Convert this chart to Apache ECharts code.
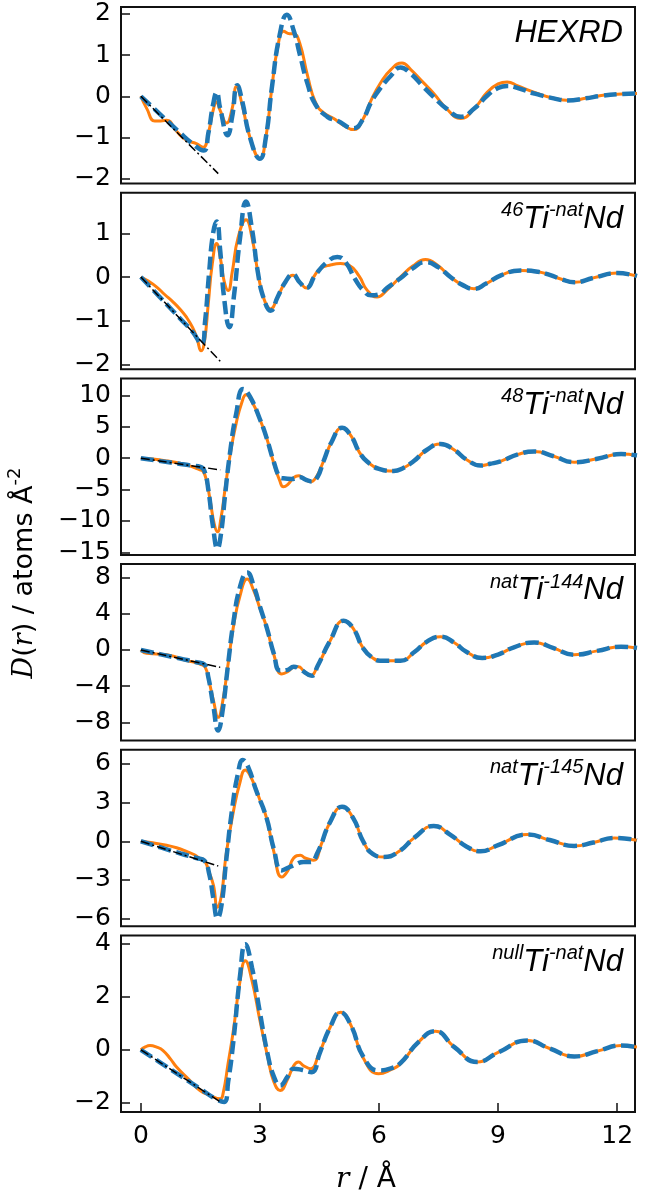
<!DOCTYPE html>
<html>
<head>
<meta charset="utf-8">
<script src="https://cdn.jsdelivr.net/npm/echarts@6/dist/echarts.min.js"></script>
<style>html,body{margin:0;padding:0;background:#fff}#c{width:645px;height:1201px}</style>
</head>
<body>
<div id="c"></div>
<script>
// ---------- DATA ----------
const xTicks = [0, 3, 6, 9, 12];
const panelLabels = [
  '{m|HEXRD}',
  '{s|46}{m|Ti}{s|-nat}{m|Nd}',
  '{s|48}{m|Ti}{s|-nat}{m|Nd}',
  '{s|nat}{m|Ti}{s|-144}{m|Nd}',
  '{s|nat}{m|Ti}{s|-145}{m|Nd}',
  '{s|null}{m|Ti}{s|-nat}{m|Nd}'
];
const yTicks1 = [-2, -1, 0, 1, 2];
const yTicks2 = [-2, -1, 0, 1];
const yTicks3 = [-15, -10, -5, 0, 5, 10];
const yTicks4 = [-8, -4, 0, 4, 8];
const yTicks5 = [-6, -3, 0, 3, 6];
const yTicks6 = [-2, 0, 2, 4];
const yRange1 = [-2.12, 2.17];
const yRange2 = [-2.11, 1.93];
const yRange3 = [-15.4, 12.7];
const yRange4 = [-10.0, 9.5];
const yRange5 = [-6.6, 7.1];
const yRange6 = [-2.34, 4.3];

// black dash-dot reference lines (r, D)
const ref1 = [[0, 0], [1.95, -1.88]];
const ref2 = [[0, 0], [2.0, -1.93]];
const ref3 = [[0, 0], [2.0, -1.87]];
const ref4 = [[0, 0], [2.0, -1.92]];
const ref5 = [[0, 0], [1.95, -1.92]];
const ref6 = [[0, 0], [2.0, -1.96]];

// orange: experiment; blue: model
const exp1 = [[0,0],[0.15,-0.3],[0.35,-0.6],[0.5,-0.6],[0.65,-0.58],[0.9,-0.85],[1.15,-1.07],[1.4,-1.15],[1.57,-1.24],[1.7,-0.9],[1.82,-0.35],[1.91,-0.14],[2.0,-0.35],[2.16,-0.65],[2.3,-0.3],[2.41,0.24],[2.55,-0.2],[2.75,-1.0],[3.0,-1.52],[3.15,-1.0],[3.3,0.2],[3.45,1.2],[3.6,1.58],[3.75,1.52],[3.85,1.52],[4.0,1.3],[4.2,0.5],[4.4,-0.15],[4.6,-0.4],[4.86,-0.54],[5.1,-0.7],[5.36,-0.81],[5.6,-0.55],[5.8,-0.1],[6.03,0.31],[6.3,0.65],[6.58,0.81],[6.8,0.65],[7.1,0.35],[7.38,0.07],[7.7,-0.3],[8.06,-0.54],[8.4,-0.3],[8.73,0.1],[9.0,0.3],[9.23,0.35],[9.5,0.25],[9.9,0.1],[10.4,-0.05],[10.83,-0.1],[11.2,-0.05],[11.6,0.02],[12.0,0.05],[12.5,0.07]];
const mod1 = [[0,0],[0.5,-0.45],[1.0,-0.9],[1.3,-1.15],[1.58,-1.32],[1.7,-0.9],[1.82,-0.2],[1.91,0.1],[2.0,-0.3],[2.19,-0.95],[2.3,-0.5],[2.43,0.27],[2.55,-0.1],[2.75,-1.0],[3.0,-1.52],[3.15,-1.0],[3.3,0.2],[3.5,1.5],[3.68,1.98],[3.85,1.6],[4.02,0.96],[4.2,0.3],[4.4,-0.2],[4.7,-0.5],[4.94,-0.59],[5.36,-0.78],[5.6,-0.55],[5.8,-0.15],[6.03,0.19],[6.3,0.5],[6.54,0.7],[6.8,0.55],[7.1,0.25],[7.38,-0.02],[7.7,-0.3],[8.06,-0.5],[8.4,-0.3],[8.73,0.02],[9.0,0.2],[9.23,0.25],[9.5,0.2],[9.9,0.07],[10.4,-0.05],[10.75,-0.1],[11.2,-0.05],[11.6,0.01],[12.0,0.05],[12.5,0.07]];

const exp2 = [[0,0],[0.2,-0.1],[0.4,-0.23],[0.6,-0.4],[0.82,-0.58],[1.0,-0.75],[1.15,-0.92],[1.3,-1.15],[1.41,-1.39],[1.52,-1.69],[1.6,-1.5],[1.7,-0.6],[1.8,0.3],[1.91,0.77],[2.0,0.45],[2.1,-0.1],[2.2,-0.31],[2.3,0.1],[2.45,0.9],[2.65,1.31],[2.8,0.9],[2.95,0.1],[3.1,-0.5],[3.27,-0.73],[3.45,-0.45],[3.65,-0.1],[3.83,0.04],[4.0,-0.12],[4.17,-0.25],[4.35,0.0],[4.52,0.19],[4.8,0.28],[5.03,0.31],[5.25,0.27],[5.5,0.02],[5.7,-0.3],[5.95,-0.46],[6.2,-0.3],[6.54,0.0],[6.85,0.25],[7.17,0.4],[7.5,0.25],[7.8,0.0],[8.1,-0.18],[8.39,-0.27],[8.7,-0.15],[9.1,0.05],[9.57,0.15],[10.0,0.12],[10.3,0.05],[10.6,-0.05],[10.92,-0.12],[11.4,-0.02],[12.0,0.09],[12.5,0.02]];
const mod2 = [[0,0],[0.5,-0.48],[1.0,-0.96],[1.3,-1.25],[1.53,-1.54],[1.62,-1.0],[1.72,0.1],[1.82,1.0],[1.91,1.27],[2.0,0.6],[2.1,-0.5],[2.23,-1.15],[2.35,-0.4],[2.5,0.9],[2.65,1.73],[2.8,1.1],[2.95,0.1],[3.1,-0.5],[3.27,-0.77],[3.45,-0.45],[3.65,-0.1],[3.83,0.06],[4.0,-0.12],[4.17,-0.25],[4.4,0.05],[4.7,0.35],[4.95,0.46],[5.15,0.35],[5.4,-0.05],[5.6,-0.3],[5.8,-0.42],[6.0,-0.4],[6.2,-0.25],[6.54,-0.03],[6.85,0.2],[7.17,0.34],[7.5,0.22],[7.8,0.0],[8.1,-0.18],[8.39,-0.27],[8.7,-0.15],[9.1,0.05],[9.57,0.15],[10.0,0.12],[10.3,0.05],[10.6,-0.05],[10.92,-0.12],[11.4,-0.02],[12.0,0.09],[12.5,0.02]];

const exp3 = [[0,0],[0.3,-0.15],[0.65,-0.43],[0.9,-0.7],[1.15,-1.07],[1.35,-1.5],[1.49,-1.88],[1.57,-2.1],[1.65,-3.5],[1.74,-6.45],[1.85,-10.5],[1.93,-11.7],[2.02,-9.5],[2.12,-5.0],[2.25,0.55],[2.4,5.5],[2.55,9.0],[2.65,10.1],[2.8,9.0],[3.0,6.2],[3.17,3.2],[3.35,-0.8],[3.5,-3.6],[3.59,-4.56],[3.7,-4.2],[3.85,-3.1],[3.97,-2.8],[4.1,-3.2],[4.27,-3.76],[4.4,-3.2],[4.6,-0.53],[4.8,2.5],[5.07,4.84],[5.3,3.5],[5.5,1.0],[5.7,-0.53],[6.0,-1.7],[6.37,-2.04],[6.6,-1.6],[6.87,-0.5],[7.2,1.3],[7.55,2.26],[7.9,1.3],[8.2,-0.2],[8.56,-1.18],[8.8,-0.9],[9.06,-0.5],[9.5,0.6],[9.91,1.08],[10.4,0.3],[10.92,-0.64],[11.5,-0.1],[12.1,0.65],[12.5,0.43]];
const mod3 = [[0,0],[0.5,-0.47],[1.0,-0.93],[1.3,-1.2],[1.5,-1.4],[1.6,-2.0],[1.7,-5.0],[1.82,-11.0],[1.93,-14.4],[2.02,-12.0],[2.12,-6.0],[2.25,1.0],[2.4,7.0],[2.58,11.0],[2.75,9.8],[3.0,6.2],[3.17,3.2],[3.35,-0.6],[3.5,-3.0],[3.59,-3.2],[3.8,-3.3],[4.0,-3.0],[4.15,-3.4],[4.31,-3.7],[4.45,-3.0],[4.6,-0.53],[4.8,2.5],[5.07,4.84],[5.3,3.5],[5.5,1.0],[5.7,-0.53],[6.0,-1.7],[6.37,-2.04],[6.6,-1.6],[6.87,-0.5],[7.2,1.3],[7.55,2.26],[7.9,1.3],[8.2,-0.2],[8.56,-1.18],[8.8,-0.9],[9.06,-0.5],[9.5,0.6],[9.91,1.08],[10.4,0.3],[10.92,-0.64],[11.5,-0.1],[12.1,0.65],[12.5,0.43]];

const exp4 = [[0,0],[0.14,-0.37],[0.4,-0.45],[0.65,-0.52],[0.9,-0.8],[1.15,-1.18],[1.35,-1.35],[1.49,-1.55],[1.62,-1.9],[1.72,-3.5],[1.83,-5.6],[1.95,-7.44],[2.05,-6.0],[2.2,-1.5],[2.33,2.5],[2.5,6.0],[2.68,7.84],[2.85,6.5],[3.0,4.6],[3.17,2.5],[3.35,-0.5],[3.55,-2.65],[3.7,-2.4],[3.85,-1.9],[3.97,-1.84],[4.1,-2.3],[4.27,-2.84],[4.45,-1.8],[4.77,1.03],[5.11,3.23],[5.35,2.4],[5.6,0.2],[5.85,-0.9],[6.03,-1.18],[6.54,-1.18],[6.9,-0.2],[7.2,0.9],[7.55,1.47],[7.9,0.8],[8.2,-0.2],[8.6,-0.88],[9.0,-0.5],[9.4,0.3],[9.91,0.84],[10.4,0.2],[10.92,-0.52],[11.5,-0.1],[12.1,0.37],[12.5,0.22]];
const mod4 = [[0,0],[0.5,-0.48],[1.0,-0.96],[1.4,-1.35],[1.6,-1.6],[1.7,-3.0],[1.82,-6.0],[1.95,-8.9],[2.05,-7.0],[2.2,-1.5],[2.33,3.0],[2.5,7.0],[2.68,8.57],[2.85,7.0],[3.0,4.8],[3.17,2.5],[3.35,-0.4],[3.51,-2.28],[3.7,-2.2],[3.85,-1.84],[4.0,-2.1],[4.31,-2.84],[4.45,-1.8],[4.77,1.03],[5.11,3.23],[5.35,2.4],[5.6,0.2],[5.85,-0.9],[6.03,-1.18],[6.54,-1.18],[6.9,-0.2],[7.2,0.9],[7.55,1.47],[7.9,0.8],[8.2,-0.2],[8.6,-0.88],[9.0,-0.5],[9.4,0.3],[9.91,0.84],[10.4,0.2],[10.92,-0.52],[11.5,-0.1],[12.1,0.37],[12.5,0.22]];

const exp5 = [[0,0],[0.3,-0.12],[0.65,-0.31],[0.9,-0.5],[1.15,-0.78],[1.35,-1.05],[1.49,-1.35],[1.62,-1.6],[1.72,-2.4],[1.83,-3.43],[1.93,-5.12],[2.03,-4.2],[2.15,-1.0],[2.33,2.28],[2.5,4.6],[2.63,5.53],[2.8,4.8],[3.0,3.2],[3.17,1.77],[3.35,-0.8],[3.55,-2.78],[3.7,-2.3],[3.85,-1.3],[4.02,-1.09],[4.14,-1.3],[4.35,-1.48],[4.55,-0.2],[4.77,1.5],[5.07,2.67],[5.35,1.8],[5.6,0.0],[5.85,-1.0],[6.12,-1.22],[6.5,-0.8],[6.9,0.3],[7.38,1.19],[7.8,0.5],[8.2,-0.4],[8.56,-0.78],[9.0,-0.3],[9.74,0.52],[10.3,0.1],[10.92,-0.36],[11.4,-0.1],[11.93,0.26],[12.5,0.08]];
const mod5 = [[0,0],[0.5,-0.48],[1.0,-0.95],[1.4,-1.3],[1.6,-1.5],[1.72,-2.5],[1.83,-4.5],[1.93,-5.98],[2.03,-5.0],[2.15,-1.5],[2.3,2.5],[2.45,5.3],[2.57,6.31],[2.7,5.8],[2.9,4.0],[3.17,1.77],[3.35,-0.6],[3.55,-2.26],[3.75,-2.0],[3.9,-1.8],[4.1,-1.6],[4.27,-1.61],[4.45,-0.9],[4.77,1.5],[5.07,2.67],[5.35,1.8],[5.6,0.0],[5.85,-1.0],[6.12,-1.22],[6.5,-0.8],[6.9,0.3],[7.38,1.19],[7.8,0.5],[8.2,-0.4],[8.56,-0.78],[9.0,-0.3],[9.74,0.52],[10.3,0.1],[10.92,-0.36],[11.4,-0.1],[11.93,0.26],[12.5,0.08]];

const exp6 = [[0,0],[0.1,0.1],[0.23,0.16],[0.4,0.1],[0.56,-0.03],[0.75,-0.35],[0.9,-0.65],[1.2,-1.1],[1.49,-1.53],[1.75,-1.72],[2.0,-1.84],[2.07,-1.66],[2.2,-0.5],[2.33,0.72],[2.5,2.6],[2.63,3.35],[2.8,2.6],[3.0,1.1],[3.2,-0.3],[3.35,-1.2],[3.51,-1.53],[3.7,-1.1],[3.85,-0.6],[3.97,-0.46],[4.1,-0.6],[4.27,-0.71],[4.5,-0.1],[4.77,0.85],[5.03,1.41],[5.3,0.9],[5.6,-0.3],[5.99,-0.9],[6.3,-0.75],[6.54,-0.53],[7.0,0.3],[7.42,0.7],[7.9,0.1],[8.48,-0.46],[9.0,-0.1],[9.74,0.35],[10.3,0.05],[10.92,-0.25],[11.5,-0.05],[12.1,0.16],[12.5,0.1]];
const mod6 = [[0,0],[0.5,-0.49],[1.0,-0.98],[1.5,-1.47],[1.9,-1.86],[2.1,-1.96],[2.2,-1.2],[2.33,0.3],[2.5,2.8],[2.63,3.97],[2.8,3.1],[3.0,1.4],[3.2,-0.2],[3.35,-1.0],[3.51,-1.34],[3.7,-1.0],[3.85,-0.71],[4.05,-0.75],[4.31,-0.84],[4.5,-0.15],[4.77,0.85],[5.03,1.41],[5.3,0.9],[5.6,-0.25],[5.99,-0.78],[6.3,-0.7],[6.54,-0.5],[7.0,0.3],[7.42,0.7],[7.9,0.1],[8.48,-0.46],[9.0,-0.1],[9.74,0.35],[10.3,0.05],[10.92,-0.25],[11.5,-0.05],[12.1,0.16],[12.5,0.1]];

// ---------- CHART ----------
const panels = [
  {exp: exp1, mod: mod1, ref: ref1, range: yRange1, ticks: yTicks1},
  {exp: exp2, mod: mod2, ref: ref2, range: yRange2, ticks: yTicks2},
  {exp: exp3, mod: mod3, ref: ref3, range: yRange3, ticks: yTicks3},
  {exp: exp4, mod: mod4, ref: ref4, range: yRange4, ticks: yTicks4},
  {exp: exp5, mod: mod5, ref: ref5, range: yRange5, ticks: yTicks5},
  {exp: exp6, mod: mod6, ref: ref6, range: yRange6, ticks: yTicks6}
];
const gridTops = [7, 192.7, 378.4, 564, 749.8, 935.5];
const gridH = 176.5;
const LEFT = 121, RIGHT = 10;
const fmt = v => String(v).replace('-', '\u2212');
const tickFont = {fontFamily: 'DejaVu Sans', fontSize: 25, color: '#000'};

const grids = [], xAxes = [], yAxes = [], series = [], titles = [];
panels.forEach((p, i) => {
  const last = i === panels.length - 1;
  grids.push({left: LEFT, right: RIGHT, top: gridTops[i], height: gridH,
    show: true, borderColor: '#111', borderWidth: 2, backgroundColor: 'transparent'});
  xAxes.push({type: 'value', gridIndex: i, min: -0.5, max: 12.45, position: 'bottom',
    axisLine: {show: false, onZero: false}, splitLine: {show: false},
    axisTick: {show: last, inside: true, length: 9, lineStyle: {color: '#111', width: 1.5}, customValues: xTicks},
    axisLabel: Object.assign({show: last, margin: 12, customValues: xTicks, formatter: fmt}, tickFont)});
  yAxes.push({type: 'value', gridIndex: i, min: p.range[0], max: p.range[1], position: 'left',
    axisLine: {show: false, onZero: false}, splitLine: {show: false},
    axisTick: {show: true, inside: true, length: 9, lineStyle: {color: '#111', width: 1.5}, customValues: p.ticks},
    axisLabel: Object.assign({margin: 10, customValues: p.ticks, formatter: fmt}, tickFont)});
  series.push({type: 'line', xAxisIndex: i, yAxisIndex: i, data: p.exp, showSymbol: false,
    smooth: 0.5, lineStyle: {color: '#ff7f0e', width: 3}, z: 2});
  series.push({type: 'line', xAxisIndex: i, yAxisIndex: i, data: p.mod, showSymbol: false,
    smooth: 0.5, lineStyle: {color: '#1f77b4', width: 4.5, type: [13, 5.5], cap: 'butt'}, z: 3});
  series.push({type: 'line', xAxisIndex: i, yAxisIndex: i, data: p.ref, showSymbol: false,
    lineStyle: {color: '#000', width: 1.5, type: [9, 3, 2, 3]}, z: 4});
  titles.push({text: panelLabels[i], right: 22, top: gridTops[i] + 8, padding: 0,
    textStyle: {fontWeight: 'normal', rich: {
      m: {fontFamily: 'Liberation Sans', fontStyle: 'italic', fontWeight: 'normal', fontSize: 31, lineHeight: 34, color: '#000', verticalAlign: 'bottom'},
      s: {fontFamily: 'Liberation Sans', fontStyle: 'italic', fontWeight: 'normal', fontSize: 20, lineHeight: 20, color: '#000', verticalAlign: 'top'}
    }}});
});

const chart = echarts.init(document.getElementById('c'), null, {renderer: 'canvas'});
chart.setOption({
  animation: false,
  backgroundColor: '#fff',
  title: titles,
  grid: grids, xAxis: xAxes, yAxis: yAxes, series: series,
  graphic: [
    {type: 'text', x: 366, y: 1180, style: {
      text: '{i|r}{n| / Å}', align: 'center', verticalAlign: 'middle',
      rich: {
        i: {fontFamily: 'DejaVu Serif', fontStyle: 'italic', fontSize: 28, fill: '#000'},
        n: {fontFamily: 'DejaVu Sans', fontSize: 28, fill: '#000'}
      }}},
    {type: 'text', x: 22, y: 573, rotation: Math.PI / 2, style: {
      text: '{i|D}{n|(}{i|r}{n|) / atoms Å}{s|-2}', align: 'center', verticalAlign: 'middle',
      rich: {
        i: {fontFamily: 'DejaVu Serif', fontStyle: 'italic', fontSize: 27, fill: '#000', lineHeight: 32, verticalAlign: 'bottom'},
        n: {fontFamily: 'DejaVu Sans', fontSize: 27, fill: '#000', lineHeight: 32, verticalAlign: 'bottom'},
        s: {fontFamily: 'DejaVu Sans', fontSize: 18, fill: '#000', lineHeight: 18, verticalAlign: 'top'}
      }}}
  ]
});
</script>
</body>
</html>
